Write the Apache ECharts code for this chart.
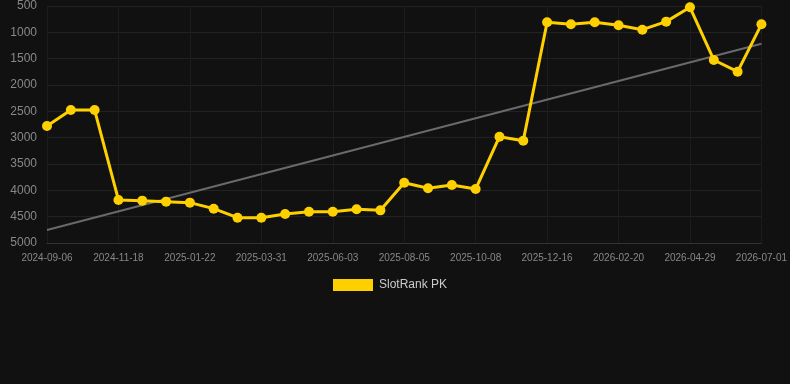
<!DOCTYPE html>
<html>
<head>
<meta charset="utf-8">
<script src="https://cdn.jsdelivr.net/npm/echarts@6/dist/echarts.min.js"></script>
<style>
  html, body { margin: 0; padding: 0; background: #111111; }
  #chart { width: 790px; height: 384px; }
</style>
</head>
<body>
<div id="chart"></div>
<script>
// category dates (every 3rd one is labelled)
const dates = [
  '2024-09-06', '2024-09-30', '2024-10-24', '2024-11-18', '2024-12-09', '2024-12-30',
  '2025-01-22', '2025-02-13', '2025-03-07', '2025-03-31', '2025-04-22', '2025-05-13',
  '2025-06-03', '2025-06-24', '2025-07-15', '2025-08-05', '2025-08-26', '2025-09-16',
  '2025-10-08', '2025-10-31', '2025-11-23', '2025-12-16', '2026-01-07', '2026-01-29',
  '2026-02-20', '2026-03-14', '2026-04-06', '2026-04-29', '2026-05-20', '2026-06-10',
  '2026-07-01'
]
// rank values
const rankPK = [
  2778, 2475, 2475, 4183, 4196, 4215,
  4234, 4348, 4519, 4519, 4449, 4405,
  4405, 4360, 4380, 3855, 3962, 3899,
  3975, 2981, 3057, 810, 848, 810,
  867, 950, 797, 525, 1525, 1747,
  848
]
// trend line start / end values
const trend = [4753, 1216]

const chart = echarts.init(document.getElementById('chart'))
chart.setOption({
  backgroundColor: '#111111',
  animation: false,
  grid: { left: 47, right: 28, top: 6, bottom: 141, containLabel: false },
  legend: {
    data: ['SlotRank PK'],
    top: 274,
    left: 328,
    itemWidth: 40,
    itemHeight: 12,
    itemGap: 10,
    icon: 'rect',
    textStyle: { color: '#cccccc', fontSize: 12, padding: [0, 0, 0, 1] }
  },
  xAxis: {
    type: 'category',
    boundaryGap: false,
    data: dates,
    axisLine: { lineStyle: { color: '#333333' } },
    axisTick: { show: false },
    axisLabel: { interval: 2, color: '#888888', fontSize: 10, margin: 10 },
    splitLine: { show: true, interval: 2, lineStyle: { color: '#1c1c1c' } }
  },
  yAxis: {
    type: 'value',
    inverse: true,
    min: 500,
    max: 5000,
    interval: 500,
    axisLine: { show: false },
    axisTick: { show: false },
    axisLabel: { color: '#888888', fontSize: 12, margin: 10, formatter: v => String(v) },
    splitLine: { lineStyle: { color: '#222222' } }
  },
  series: [
    {
      name: 'SlotRank PK',
      type: 'line',
      data: rankPK,
      color: '#FFD000',
      symbol: 'circle',
      symbolSize: 10,
      lineStyle: { width: 3, color: '#FFD000' },
      itemStyle: { color: '#FFD000' },
      z: 3
    },
    {
      name: 'trend',
      type: 'line',
      data: [[dates[0], trend[0]], [dates[dates.length - 1], trend[1]]],
      symbol: 'none',
      lineStyle: { width: 2, color: '#6a6a6a' },
      z: 2
    }
  ]
})
</script>
</body>
</html>
